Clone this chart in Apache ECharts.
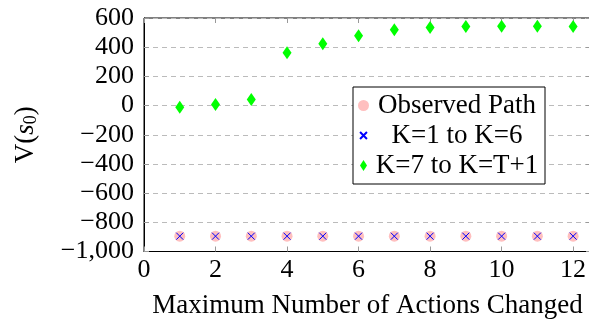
<!DOCTYPE html>
<html>
<head>
<meta charset="utf-8">
<script src="https://cdn.jsdelivr.net/npm/echarts@6/dist/echarts.min.js"></script>
<style>
  html, body { margin: 0; padding: 0; background: #fff; }
  #chart { width: 589px; height: 320px; }
</style>
</head>
<body>
<div id="chart"></div>
<script>
const actionsChanged = [1, 2, 3, 4, 5, 6, 7, 8, 9, 10, 11, 12];
const observedPath = [-895, -895, -895, -895, -895, -895, -895, -895, -895, -895, -895, -895];
const k1to6 = [-895, -895, -895, -895, -895, -895, -895, -895, -895, -895, -895, -895];
const k7toT1 = [-11, 7, 41, 362, 423, 478, 519, 535, 542, 544, 544, 542];
const seriesNames = ['Observed Path', 'K=1 to K=6', 'K=7 to K=T+1'];

const FONT = 'Liberation Serif';
const crossPath = 'path://M0,0L10,10M10,0L0,10';
// legend icons get padded bounds so they come out smaller than the circle
const crossIcon = 'path://M-3,-3M0,0L10,10M10,0L0,10M13,13';
const diamondIcon = 'path://M0,0M5.5,0L9,5.5L5.5,11L2,5.5ZM11,11';

function pairs(vals) {
  return actionsChanged.map((x, i) => [x, vals[i]]);
}

function fmtY(v) {
  const s = Math.abs(v).toLocaleString('en-US');
  return v < 0 ? '\u2212' + s : s;
}

const chart = echarts.init(document.getElementById('chart'));

const tickStyle = { show: true, inside: true, length: 5, lineStyle: { color: '#999', width: 1 } };

chart.setOption({
  animation: false,
  backgroundColor: '#fff',
  textStyle: { fontFamily: FONT },
  grid: {
    left: 144, top: 18, width: 447, height: 233.5,
    outerBoundsMode: 'none',
    show: true, borderColor: '#000', borderWidth: 1, backgroundColor: 'transparent'
  },
  legend: {
    left: 353, top: 87,
    orient: 'vertical',
    data: [
      { name: seriesNames[0], icon: 'circle' },
      { name: seriesNames[1], icon: crossIcon },
      { name: seriesNames[2], icon: diamondIcon }
    ],
    backgroundColor: '#fff',
    borderColor: '#000',
    borderWidth: 1,
    borderRadius: 0,
    padding: [5, 5, 5, 4],
    itemGap: 3,
    itemWidth: 11,
    itemHeight: 11,
    formatter: (name) => '{t|' + name + '}',
    textStyle: {
      fontFamily: FONT, fontSize: 27, color: '#000',
      rich: { t: { width: 166, align: 'center', fontFamily: FONT, fontSize: 27, lineHeight: 26 } }
    }
  },
  xAxis: [{
    type: 'value', min: 0, max: 12.5, interval: 2,
    name: 'Maximum Number of Actions Changed',
    nameLocation: 'middle', nameGap: 41,
    nameTextStyle: { fontFamily: FONT, fontSize: 27, color: '#000' },
    axisLine: { show: true, onZero: false, lineStyle: { color: '#000', width: 1 } },
    axisTick: tickStyle,
    axisLabel: { fontFamily: FONT, fontSize: 26, color: '#000', margin: 6, showMaxLabel: false },
    splitLine: { show: false }
  }, {
    type: 'value', position: 'top', min: 0, max: 12.5, interval: 2,
    axisLine: { show: false, onZero: false },
    axisTick: tickStyle,
    axisLabel: { show: false },
    splitLine: { show: false }
  }],
  yAxis: [{
    type: 'value', min: -1000, max: 600, interval: 200,
    name: '{n|V(}{i|s}{s|0}{n|)}',
    nameLocation: 'middle', nameGap: 104, nameRotate: 90,
    nameTextStyle: {
      rich: {
        n: { fontFamily: FONT, fontSize: 27, color: '#000' },
        i: { fontFamily: FONT, fontSize: 27, fontStyle: 'italic', color: '#000' },
        s: { fontFamily: FONT, fontSize: 18, color: '#000', padding: [10, 0, 0, 0] }
      }
    },
    axisLine: { show: true, onZero: false, lineStyle: { color: '#000', width: 1 } },
    axisTick: tickStyle,
    axisLabel: { fontFamily: FONT, fontSize: 26, color: '#000', margin: 10, formatter: fmtY },
    splitLine: { show: true, lineStyle: { color: '#bbb', type: [5, 4], width: 1 } }
  }, {
    type: 'value', position: 'right', min: -1000, max: 600, interval: 200,
    axisLine: { show: false, onZero: false },
    axisTick: tickStyle,
    axisLabel: { show: false },
    splitLine: { show: false }
  }],
  series: [{
    name: seriesNames[0],
    type: 'scatter',
    data: pairs(observedPath),
    symbol: 'circle',
    symbolSize: 11,
    itemStyle: { color: '#ffbfbf', opacity: 1 }
  }, {
    name: seriesNames[1],
    type: 'scatter',
    data: pairs(k1to6),
    symbol: crossPath,
    symbolSize: 7,
    itemStyle: { color: 'transparent', borderColor: '#0000ff', borderWidth: 1, opacity: 1 }
  }, {
    name: seriesNames[2],
    type: 'scatter',
    data: pairs(k7toT1),
    symbol: 'diamond',
    symbolSize: [9, 13],
    itemStyle: { color: '#00ff00', opacity: 1 }
  }]
});
</script>
</body>
</html>
